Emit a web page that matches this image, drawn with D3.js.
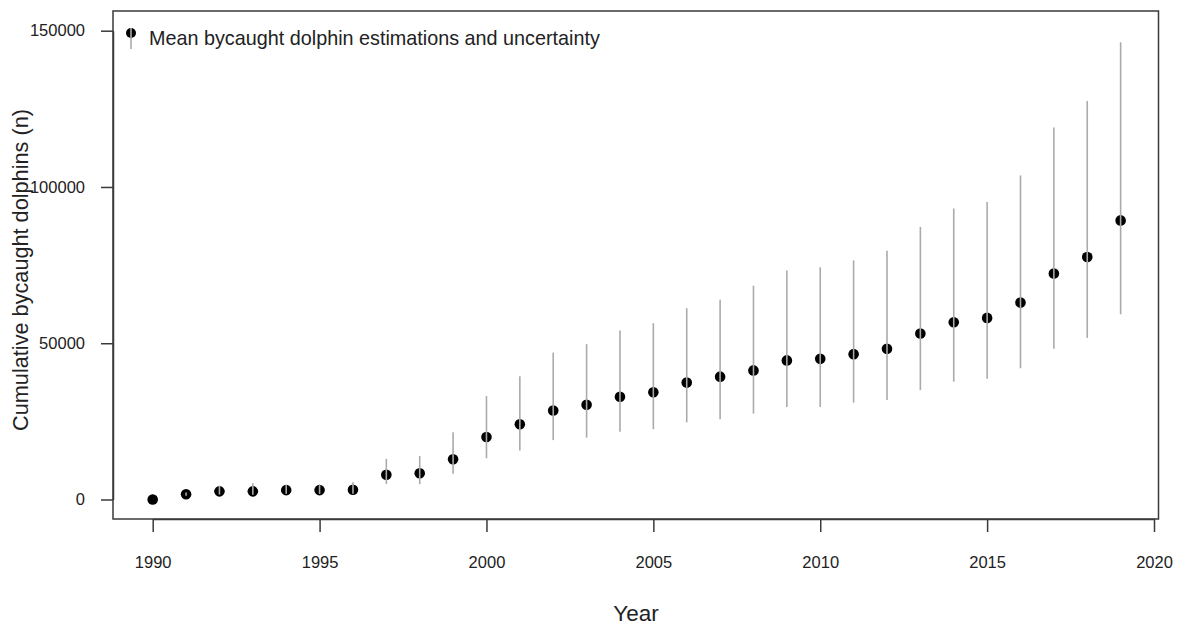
<!DOCTYPE html>
<html>
<head>
<meta charset="utf-8">
<script src="https://cdn.jsdelivr.net/npm/d3@7"></script>
<style>
    body { margin: 0; background: #fff; }
    text { font-family: "Liberation Sans", Arial, sans-serif; fill: #222; }
</style>
</head>
<body>
<div id="chart"></div>
<script>
// cumulative bycaught dolphins, mean + uncertainty interval
const years = [1990, 1991, 1992, 1993, 1994, 1995, 1996, 1997, 1998, 1999,
    2000, 2001, 2002, 2003, 2004, 2005, 2006, 2007, 2008, 2009,
    2010, 2011, 2012, 2013, 2014, 2015, 2016, 2017, 2018, 2019];
const meanValues = [0, 1700, 2600, 2600, 3000, 3000, 3100, 7900, 8400, 12900,
    20000, 24100, 28500, 30300, 32900, 34300, 37400, 39300, 41300, 44500,
    45000, 46500, 48200, 53100, 56700, 58100, 63000, 72300, 77600, 89300];
const lowerValues = [0, 1200, 1600, 1500, 1800, 1800, 1800, 5000, 4900, 8200,
    13200, 15700, 19000, 19800, 21700, 22500, 24700, 25700, 27500, 29600,
    29600, 31000, 31800, 35000, 37700, 38600, 42000, 48200, 51700, 59300];
const upperValues = [0, 2200, 4400, 5200, 4600, 4600, 5500, 13000, 13900, 21500,
    33100, 39400, 47000, 49700, 54100, 56400, 61200, 63900, 68400, 73300,
    74300, 76500, 79600, 87200, 93100, 95200, 103700, 119000, 127500, 146300];
const xTicks = [1990, 1995, 2000, 2005, 2010, 2015, 2020];
const yTicks = [0, 50000, 100000, 150000];
const legendLabel = "Mean bycaught dolphin estimations and uncertainty";

class BycatchChart {
    constructor(_parentElement, _data) {
        this.parentElement = _parentElement;
        this.data = _data;
        this.initVis();
    }

    initVis() {
        let vis = this;
        vis.width = 1179;
        vis.height = 625;
        // plot box (R style)
        vis.box = { left: 113, right: 1158.5, top: 11, bottom: 519 };

        vis.svg = d3.select("#" + vis.parentElement).append("svg")
            .attr("width", vis.width)
            .attr("height", vis.height);

        vis.x = d3.scaleLinear()
            .domain([1990, 2020])
            .range([152.7, 1154]);

        vis.y = d3.scaleLinear()
            .domain([0, 150000])
            .range([499.5, 30.7]);

        // box
        vis.svg.append("rect")
            .attr("x", vis.box.left)
            .attr("y", vis.box.top)
            .attr("width", vis.box.right - vis.box.left)
            .attr("height", vis.box.bottom - vis.box.top)
            .attr("fill", "none")
            .attr("stroke", "#3a3a3a")
            .attr("stroke-width", 1.5);

        vis.xAxis = d3.axisBottom(vis.x)
            .tickValues(xTicks)
            .tickFormat(d3.format("d"))
            .tickSizeInner(13)
            .tickSizeOuter(0)
            .tickPadding(24);

        vis.yAxis = d3.axisLeft(vis.y)
            .tickValues(yTicks)
            .tickFormat(d3.format("d"))
            .tickSizeInner(12)
            .tickSizeOuter(0)
            .tickPadding(16);

        vis.xAxisG = vis.svg.append("g")
            .attr("class", "x-axis axis")
            .attr("transform", "translate(0," + vis.box.bottom + ")");

        vis.yAxisG = vis.svg.append("g")
            .attr("class", "y-axis axis")
            .attr("transform", "translate(" + vis.box.left + ",0)");

        // axis titles
        vis.svg.append("text")
            .attr("x", 636)
            .attr("y", 621)
            .attr("text-anchor", "middle")
            .style("font-size", "22.5px")
            .text("Year");

        vis.svg.append("text")
            .attr("transform", "translate(28,270) rotate(-90)")
            .attr("text-anchor", "middle")
            .style("font-size", "21.7px")
            .text("Cumulative bycaught dolphins (n)");

        // legend
        let legend = vis.svg.append("g").attr("class", "legend");
        legend.append("circle")
            .attr("cx", 131)
            .attr("cy", 33)
            .attr("r", 5)
            .attr("fill", "#000");
        legend.append("line")
            .attr("x1", 131).attr("x2", 131)
            .attr("y1", 28).attr("y2", 49)
            .attr("stroke", "#aaa")
            .attr("stroke-width", 1.6);
        legend.append("text")
            .attr("x", 149)
            .attr("y", 45)
            .style("font-size", "19.8px")
            .text(legendLabel);

        vis.wrangleData();
    }

    wrangleData() {
        let vis = this;
        vis.displayData = years.map((yr, i) => ({
            year: yr,
            mean: meanValues[i],
            lo: lowerValues[i],
            hi: upperValues[i]
        }));
        vis.updateVis();
    }

    updateVis() {
        let vis = this;

        // points
        vis.svg.append("g").selectAll("circle")
            .data(vis.displayData)
            .enter()
            .append("circle")
            .attr("cx", d => vis.x(d.year))
            .attr("cy", d => vis.y(d.mean))
            .attr("r", 5.3)
            .attr("fill", "#000");

        // uncertainty bars (drawn over the dots)
        vis.svg.append("g").selectAll("line")
            .data(vis.displayData.filter(d => d.hi > d.lo))
            .enter()
            .append("line")
            .attr("x1", d => vis.x(d.year))
            .attr("x2", d => vis.x(d.year))
            .attr("y1", d => vis.y(d.lo))
            .attr("y2", d => vis.y(d.hi))
            .attr("stroke", "#aaa")
            .attr("stroke-width", 1.6);

        vis.xAxisG.call(vis.xAxis);
        vis.yAxisG.call(vis.yAxis);

        vis.svg.selectAll(".axis path").attr("stroke", "#3a3a3a").attr("stroke-width", 1.5);
        vis.svg.selectAll(".axis .tick line").attr("stroke", "#3a3a3a").attr("stroke-width", 1.5);
        vis.svg.selectAll(".axis text")
            .style("font-size", "16.5px")
            .style("font-family", "'Liberation Sans', Arial, sans-serif")
            .attr("fill", "#222");
    }
}

new BycatchChart("chart", null);
</script>
</body>
</html>
